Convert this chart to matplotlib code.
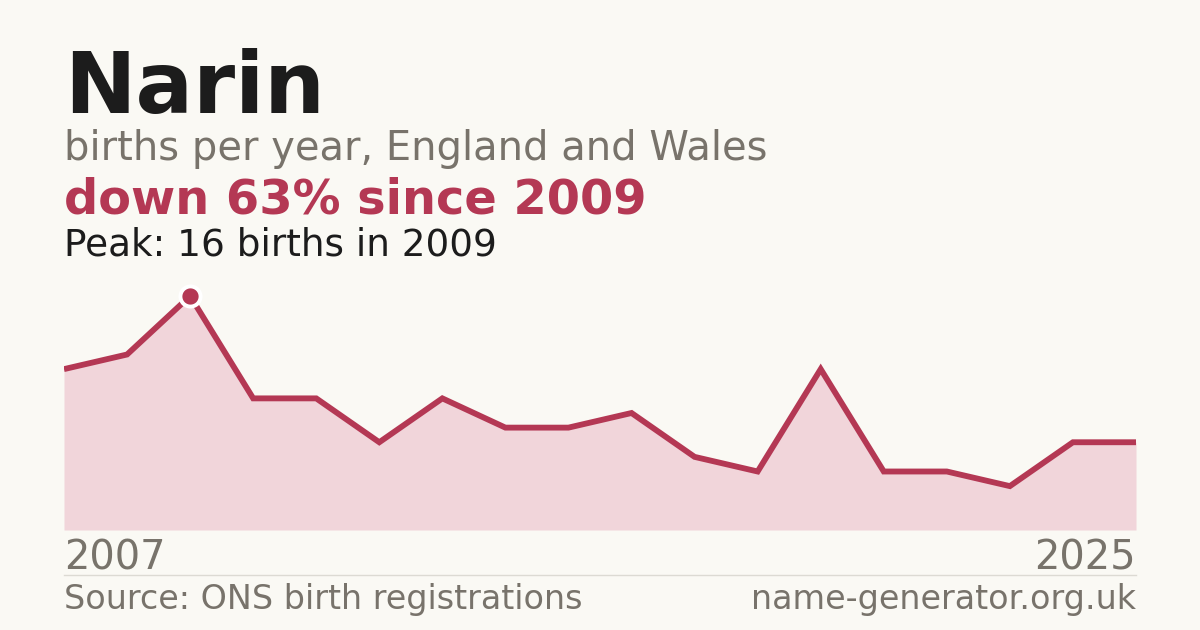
import math
import numpy as np
import matplotlib.pyplot as plt

# Data
name = "Narin"
first_year = 2007
last_year = 2025
births = [11, 12, 16, 9, 9, 6, 9, 7, 7, 8, 5, 4, 11, 4, 4, 3, 6, 6]
peak_year = 2009

bg = "#faf9f4"
red = "#b43854"
pink = "#f1d5da"
grey = "#78736b"
dark = "#1c1c1c"

W, H = 1200, 630
fig = plt.figure(figsize=(W / 100, H / 100), dpi=100, facecolor=bg)

# text block
fig.text(64 / W, 1 - 113 / H, name, fontsize=61.5, fontweight="bold", color=dark,
         ha="left", va="baseline")
fig.text(64 / W, 1 - 160 / H, "births per year, England and Wales", fontsize=28.8,
         color=grey, ha="left", va="baseline")
peak = max(births)
drop = math.floor((peak - births[-1]) / peak * 100 + 0.5)
fig.text(64 / W, 1 - 214 / H, f"down {drop}% since {peak_year}", fontsize=34.5,
         fontweight="bold", color=red, ha="left", va="baseline")
fig.text(64 / W, 1 - 255 / H, f"Peak: {peak} births in {peak_year}", fontsize=26.9,
         color=dark, ha="left", va="baseline")

# area chart
ax = fig.add_axes([64 / W, 1 - 530 / H, 1072 / W, 234 / H])
ax.set_facecolor("none")
x = np.arange(len(births))
ax.fill_between(x, births, 0, color=pink, lw=0)
ax.plot(x, births, color=red, lw=4.2, solid_joinstyle="miter", solid_capstyle="butt")
i = births.index(peak)
ax.plot(x[i], births[i], "o", ms=14.5, color=red, mec="white", mew=2.8, clip_on=False,
        zorder=5)
ax.set_xlim(x[0], x[-1])
ax.set_ylim(0, peak)
ax.axis("off")

fig.text(64 / W, 1 - 570 / H, str(first_year), fontsize=28.8, color=grey,
         ha="left", va="baseline")
fig.text(1136 / W, 1 - 570 / H, str(last_year), fontsize=28.8, color=grey,
         ha="right", va="baseline")

# footer
fig.add_artist(plt.Line2D([64 / W, 1136 / W], [1 - 574.5 / H, 1 - 574.5 / H],
                          color="#dcdad3", lw=1))
fig.text(64 / W, 1 - 609 / H, "Source: ONS birth registrations", fontsize=24,
         color=grey, ha="left", va="baseline")
fig.text(1136 / W, 1 - 609 / H, "name-generator.org.uk", fontsize=24,
         color=grey, ha="right", va="baseline")

fig.savefig("out.png", dpi=100, facecolor=bg)
